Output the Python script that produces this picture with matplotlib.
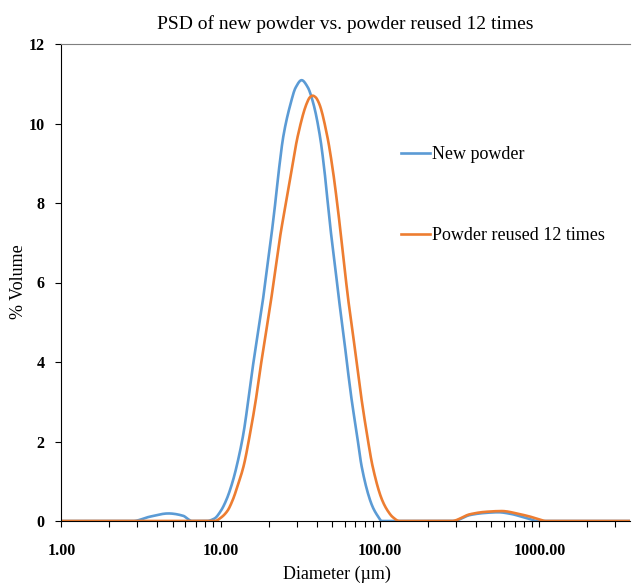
import matplotlib
matplotlib.use("Agg")
import numpy as np
import matplotlib.pyplot as plt
from matplotlib.ticker import FixedLocator, LogLocator, NullFormatter

plt.rcParams['font.family'] = ['Liberation Serif', 'DejaVu Serif']

# diameters (um) and % volume
new_d = [1.0, 2.82, 3.60, 4.69, 5.82, 6.27, 6.53, 8.17, 9.12, 10.0,
         10.9, 11.9, 12.8, 13.9, 14.9, 15.9, 17.1, 18.4, 19.6, 20.9,
         22.0, 23.2, 24.7, 27.5, 29.5, 32.2, 35.1, 38.1, 42.0, 44.7,
         47.0, 49.2, 52.2, 55.3, 58.9, 62.4, 66.4, 71.4, 76.7, 86.5,
         91.2, 97.7, 102, 288, 367, 447, 553, 661, 757, 875,
         964, 3715]
new_v = [0, 0, 0.11, 0.19, 0.13, 0.04, 0, 0, 0.06, 0.25,
         0.55, 1.0, 1.5, 2.21, 3.04, 3.88, 4.72, 5.56, 6.41, 7.25,
         8.0, 8.84, 9.67, 10.51, 10.9, 11.09, 10.92, 10.51, 9.67, 8.84,
         8.0, 7.25, 6.41, 5.56, 4.72, 3.88, 3.04, 2.21, 1.37, 0.53,
         0.3, 0.1, 0, 0, 0.15, 0.2, 0.22, 0.18, 0.12, 0.05,
         0, 0]

reused_d = [1.0, 9.20, 10.0, 11.0, 11.9, 12.8, 13.9, 15.3, 16.6, 17.8,
            19.2, 20.7, 22.2, 23.8, 25.7, 27.9, 30.4, 34.7, 36.3, 37.8,
            39.4, 41.4, 46.7, 50.5, 53.5, 56.6, 59.7, 63.2, 67.5, 71.9,
            76.7, 82.6, 89.9, 103, 112, 120, 132, 282, 367, 457,
            581, 757, 875, 1000, 1096, 3715]
reused_v = [0, 0, 0.08, 0.25, 0.53, 0.9, 1.37, 2.21, 3.04, 3.88,
            4.72, 5.56, 6.41, 7.25, 8.0, 8.84, 9.67, 10.51, 10.66, 10.70,
            10.66, 10.51, 9.67, 8.84, 8.08, 7.25, 6.41, 5.56, 4.72, 3.88,
            3.04, 2.21, 1.37, 0.53, 0.25, 0.1, 0, 0, 0.17, 0.23,
            0.25, 0.17, 0.11, 0.04, 0, 0]

x_ticks = [1, 10, 100, 1000]
y_ticks = [0, 2, 4, 6, 8, 10, 12]


def smooth(d, v, n=16):
    # smoothed line like excel's, but monotone (pchip) so no overshoot
    x = np.log10(d)
    y = np.array(v, dtype=float)
    h = np.diff(x)
    s = np.diff(y) / h
    m = np.zeros_like(y)
    for k in range(1, len(y) - 1):
        if s[k - 1] * s[k] > 0:
            w1 = 2 * h[k] + h[k - 1]
            w2 = h[k] + 2 * h[k - 1]
            m[k] = (w1 + w2) / (w1 / s[k - 1] + w2 / s[k])
    xs, ys = [], []
    t = np.linspace(0, 1, n, endpoint=False)
    for k in range(len(h)):
        h00 = 2 * t ** 3 - 3 * t ** 2 + 1
        h10 = t ** 3 - 2 * t ** 2 + t
        h01 = -2 * t ** 3 + 3 * t ** 2
        h11 = t ** 3 - t ** 2
        xs.extend(x[k] + t * h[k])
        ys.extend(h00 * y[k] + h10 * h[k] * m[k] + h01 * y[k + 1] + h11 * h[k] * m[k + 1])
    xs.append(x[-1])
    ys.append(y[-1])
    return 10 ** np.array(xs), np.array(ys)


fig = plt.figure(figsize=(6.32, 5.88), dpi=100)
ax = fig.add_axes([61.4 / 632, 1 - 521 / 588, 568.6 / 632, 477 / 588])

ax.plot(*smooth(new_d, new_v), color='#5B9BD5', lw=1.9, label='New powder')
ax.plot(*smooth(reused_d, reused_v), color='#ED7D31', lw=1.9, label='Powder reused 12 times')

ax.set_xscale('log')
ax.set_xlim(1, 3707)
ax.set_ylim(0, 12)
ax.xaxis.set_major_locator(FixedLocator(x_ticks))
ax.set_xticklabels(['%.2f' % t for t in x_ticks], fontweight='bold', fontsize=11.5)
ax.xaxis.set_minor_locator(LogLocator(base=10, subs=range(2, 10)))
ax.xaxis.set_minor_formatter(NullFormatter())
ax.set_yticks(y_ticks)
ax.set_yticklabels([str(t) for t in y_ticks], fontweight='bold', fontsize=11.5)
ax.tick_params(axis='both', which='both', direction='out', length=4, width=0.8)
ax.tick_params(axis='x', which='major', pad=12)
ax.tick_params(axis='y', pad=8)

ax.spines['right'].set_visible(False)
ax.spines['top'].set_color('#7f7f7f')

ax.set_xlabel('Diameter (µm)', fontsize=13, va='center', ha='center')
ax.xaxis.set_label_coords(0.485, (521 - 574) / 477)
ax.set_ylabel('% Volume', fontsize=13, va='center', ha='center')
ax.yaxis.set_label_coords((18 - 61.4) / 568.6, (521 - 282) / 477)
ax.set_title('PSD of new powder vs. powder reused 12 times', fontsize=14, pad=11)

ax.legend(loc='upper left', bbox_to_anchor=(401 / 632, 1 - 146 / 588),
          bbox_transform=fig.transFigure, frameon=False, fontsize=13,
          handlelength=1.6, handletextpad=0.1, labelspacing=3.55,
          borderpad=0, borderaxespad=0)

fig.savefig('out.png', dpi=100)
